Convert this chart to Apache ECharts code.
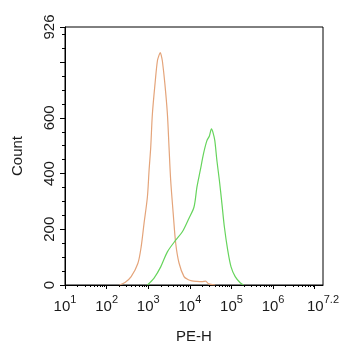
<!DOCTYPE html>
<html>
<head>
<meta charset="utf-8">
<script src="https://cdn.jsdelivr.net/npm/echarts@6/dist/echarts.min.js"></script>
<style>html,body{margin:0;padding:0;background:#fff}#c{width:342px;height:350px}</style>
</head>
<body>
<div id="c"></div>
<script>
// x values are log10(PE-H)
var orangeX = [2.31, 2.45, 2.59, 2.75, 2.83, 2.90, 2.98, 3.02, 3.06, 3.10, 3.17, 3.22, 3.26, 3.29, 3.31, 3.34, 3.40, 3.46, 3.50, 3.54, 3.60, 3.66, 3.74, 3.86, 3.95, 4.05, 4.17, 4.29, 4.38, 4.45, 4.61];
var orangeY = [0, 10, 30, 77, 137, 222, 316, 411, 494, 614, 733, 804, 825, 834, 826, 804, 722, 615, 494, 375, 257, 150, 79, 30, 20, 15, 13, 12, 14, 4, 0];
var greenX = [2.98, 3.14, 3.30, 3.46, 3.66, 3.82, 3.98, 4.10, 4.17, 4.25, 4.33, 4.41, 4.47, 4.52, 4.56, 4.60, 4.65, 4.71, 4.77, 4.83, 4.91, 4.99, 5.09, 5.21, 5.29];
var greenY = [0, 25, 65, 119, 161, 191, 240, 280, 351, 411, 472, 518, 535, 560, 545, 518, 447, 375, 293, 208, 125, 65, 30, 8, 0];
var xLabelExps = [1, 2, 3, 4, 5, 6, 7.2];
var xMajorTicks = [1, 2, 3, 4, 5, 6, 7];
var yLabels = [0, 200, 400, 600, 926];
var yMajorTicks = [0, 200, 400, 600, 800, 926];
var yMinorTicks = [50, 100, 150, 250, 300, 350, 450, 500, 550, 650, 700, 750, 850, 900];

var xMinorTicks = [];
for (var d = 1; d <= 6; d++) {
  for (var k = 2; k <= 9; k++) {
    xMinorTicks.push(d + Math.log10(k));
  }
}

function pairs(xs, ys) { return xs.map(function (x, i) { return [x, ys[i]]; }); }

var font = 'Liberation Sans, Arial, sans-serif';
var chart = echarts.init(document.getElementById('c'), null, {renderer: 'canvas'});
chart.setOption({
  backgroundColor: '#fff',
  animation: false,
  grid: {left: 65, top: 27, right: 16, bottom: 65, show: true, borderColor: '#000', borderWidth: 1, backgroundColor: 'transparent'},
  xAxis: [{
    type: 'value', min: 1, max: 7.2, position: 'bottom',
    name: 'PE-H', nameLocation: 'middle', nameGap: 44,
    nameTextStyle: {fontFamily: font, fontSize: 15, color: '#1a1a1a'},
    axisLine: {lineStyle: {color: '#000', width: 1}},
    axisTick: {customValues: xMajorTicks, length: 4, lineStyle: {color: '#000'}},
    axisLabel: {
      customValues: xLabelExps, margin: 9,
      formatter: function (v) { return '{b|10}{s|' + v + '}'; },
      rich: {
        b: {fontFamily: font, fontSize: 15, color: '#1a1a1a', verticalAlign: 'bottom', lineHeight: 20},
        s: {fontFamily: font, fontSize: 11, color: '#1a1a1a', verticalAlign: 'top', lineHeight: 20, padding: [0, 0, 7, 0]}
      }
    },
    splitLine: {show: false}
  }, {
    type: 'value', min: 1, max: 7.2, position: 'bottom',
    axisLine: {show: false},
    axisTick: {customValues: xMinorTicks, length: 2, lineStyle: {color: '#000'}},
    axisLabel: {show: false},
    splitLine: {show: false}
  }],
  yAxis: [{
    type: 'value', min: 0, max: 926, position: 'left',
    name: 'Count', nameLocation: 'middle', nameGap: 40, nameRotate: 90,
    nameTextStyle: {fontFamily: font, fontSize: 15, color: '#1a1a1a'},
    axisLine: {show: true, lineStyle: {color: '#000', width: 1}},
    axisTick: {show: true, customValues: yMajorTicks, length: 5, lineStyle: {color: '#000'}},
    axisLabel: {customValues: yLabels, rotate: 90, margin: 8, fontFamily: font, fontSize: 15, color: '#1a1a1a'},
    splitLine: {show: false}
  }, {
    type: 'value', min: 0, max: 926, position: 'left',
    axisLine: {show: false},
    axisTick: {show: true, customValues: yMinorTicks, length: 3, lineStyle: {color: '#000'}},
    axisLabel: {show: false},
    splitLine: {show: false}
  }],
  series: [{
    type: 'line', data: pairs(orangeX, orangeY), showSymbol: false, smooth: 0.3,
    lineStyle: {color: '#E4A47A', width: 1.2}, xAxisIndex: 0, yAxisIndex: 0
  }, {
    type: 'line', data: pairs(greenX, greenY), showSymbol: false, smooth: 0.3,
    lineStyle: {color: '#66D45C', width: 1.2}, xAxisIndex: 0, yAxisIndex: 0
  }]
});
</script>
</body>
</html>
